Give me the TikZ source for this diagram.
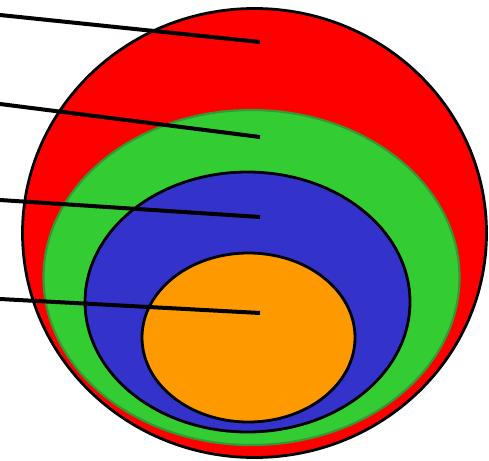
\documentclass[tikz,border=0pt]{standalone}
\definecolor{cred}{HTML}{FF0000}
\definecolor{cgreen}{HTML}{33CC33}
\definecolor{cgreenedge}{HTML}{339933}
\definecolor{cblue}{HTML}{3333CC}
\definecolor{corange}{HTML}{FF9900}
\begin{document}
\begin{tikzpicture}[x=1pt,y=-1pt,
  ring/.style={line width=2.8pt,draw=black},
  pointer/.style={line width=4pt,draw=black}]
\useasboundingbox (0,0) rectangle (489,460);
\fill[cred,ring] (254.5,233) ellipse [x radius=232, y radius=224.5];
\fill[cgreen,draw=cgreenedge,line width=2.2pt] (251.5,277.5) ellipse [x radius=208, y radius=167.5];
\fill[cblue,ring] (247.5,302) ellipse [x radius=162.5, y radius=130];
\fill[corange,ring] (248.5,337.5) ellipse [x radius=106.5, y radius=84.5];
\coordinate (s1) at (0,15);   \coordinate (e1) at (260,42);
\coordinate (s2) at (0,104);  \coordinate (e2) at (260,137);
\coordinate (s3) at (0,200);  \coordinate (e3) at (260,217);
\coordinate (s4) at (0,299);  \coordinate (e4) at (260,313);
\draw[pointer] (s1) -- (e1);
\draw[pointer] (s2) -- (e2);
\draw[pointer] (s3) -- (e3);
\draw[pointer] (s4) -- (e4);
\end{tikzpicture}
\end{document}
